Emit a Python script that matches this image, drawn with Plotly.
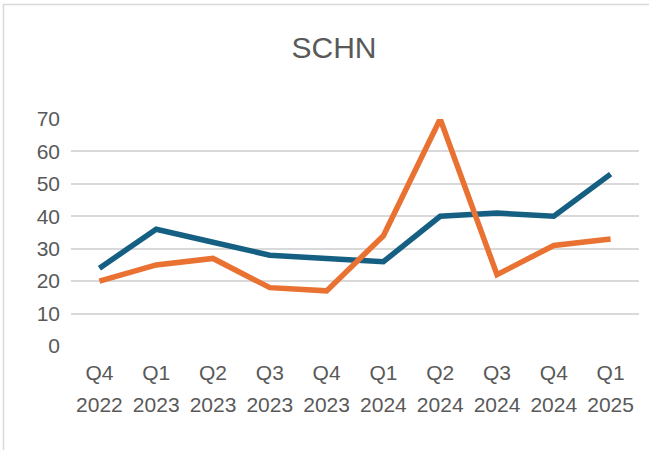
import plotly.graph_objects as go

quarters = ["Q4", "Q1", "Q2", "Q3", "Q4", "Q1", "Q2", "Q3", "Q4", "Q1"]
years = ["2022", "2023", "2023", "2023", "2023", "2024", "2024", "2024", "2024", "2025"]
series_blue = [24, 36, 32, 28, 27, 26, 40, 41, 40, 53]
series_orange = [20, 25, 27, 18, 17, 34, 70, 22, 31, 33]
y_ticks = [0, 10, 20, 30, 40, 50, 60, 70]

cats = list(range(len(quarters)))
FONT = "Liberation Sans, Arial, sans-serif"
GREY = "#595959"

fig = go.Figure()
fig.add_trace(go.Scatter(x=cats, y=series_blue, mode="lines",
                         line=dict(color="#156082", width=5.5), showlegend=False))
fig.add_trace(go.Scatter(x=cats, y=series_orange, mode="lines",
                         line=dict(color="#E97132", width=5.5), showlegend=False))
# invisible trace on second x axis for year labels
fig.add_trace(go.Scatter(x=cats, y=series_blue, xaxis="x2", mode="lines",
                         line=dict(width=0), opacity=0, hoverinfo="skip", showlegend=False))

L, R, T, B = 71, 10, 119, 104
W, H = 649, 450
fig.update_layout(
    width=W, height=H,
    margin=dict(l=L, r=R, t=T, b=B),
    paper_bgcolor="white", plot_bgcolor="white",
    title=dict(text="SCHN", x=334 / W, xanchor="center", y=1 - 47 / H, yanchor="middle",
               font=dict(family=FONT, size=30, color=GREY)),
    font=dict(family=FONT, color=GREY),
    xaxis=dict(range=[-0.5, len(cats) - 0.5], tickmode="array", tickvals=cats, ticktext=quarters,
               showgrid=False, zeroline=False, showline=False, ticks="",
               tickfont=dict(size=21, color=GREY), ticklabelstandoff=12),
    xaxis2=dict(range=[-0.5, len(cats) - 0.5], tickmode="array", tickvals=cats, ticktext=years,
                overlaying="x", side="bottom", anchor="y",
                showgrid=False, zeroline=False, showline=False, ticks="",
                tickfont=dict(size=21, color=GREY), ticklabelstandoff=44),
    yaxis=dict(range=[0, 70], tickmode="array", tickvals=y_ticks,
               showgrid=True, gridcolor="#D9D9D9", gridwidth=1.5,
               zeroline=False, showline=False, ticks="",
               tickfont=dict(size=21, color=GREY), ticklabelstandoff=10),
)

pw, ph = W - L - R, H - T - B
def px_x(p):
    return (p - L) / pw
def px_y(p):
    return (H - B - p) / ph

fig.add_shape(type="rect", xref="paper", yref="paper",
              x0=px_x(3.5), x1=px_x(W + 20), y0=px_y(H + 20), y1=px_y(4.5),
              line=dict(color="#D9D9D9", width=1.5), fillcolor="rgba(0,0,0,0)", layer="below")

fig.write_html("out.html", config={"displayModeBar": False},
               post_script="document.body.style.margin='0px';")
